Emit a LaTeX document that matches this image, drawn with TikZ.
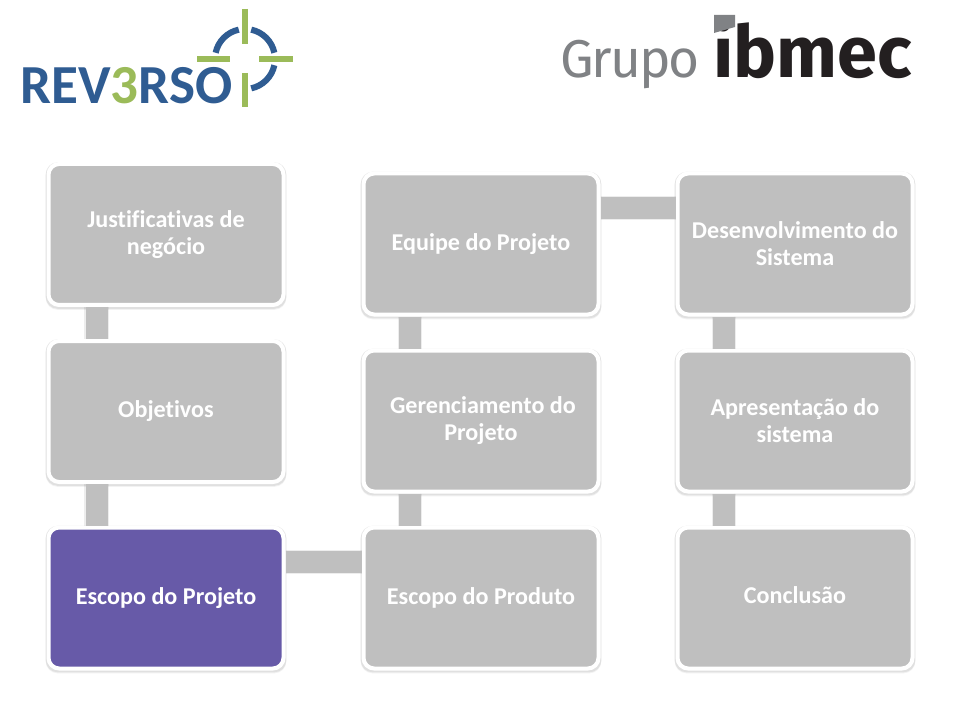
\documentclass[tikz,border=0pt]{standalone}
\usepackage{fontspec}
\setmainfont{Carlito}[Ligatures=CommonOff]
\newfontfamily\logofont{Fira Sans}[LetterSpace=-4]
\newfontfamily\ibmecfont{Fira Sans}
\usetikzlibrary{calc}
\definecolor{boxgray}{HTML}{BFBFBF}
\definecolor{boxviolet}{HTML}{675AA8}
\definecolor{revblue}{HTML}{2F5C92}
\definecolor{revgreen}{HTML}{9BBB59}
\definecolor{grupogray}{HTML}{808285}
\definecolor{ibmecblack}{HTML}{231F20}
\tikzset{
  x=0.75pt,y=-0.75pt,
  stepbox/.style={rectangle,rounded corners=8pt,draw=white,line width=3pt,fill=boxgray,
    minimum width=176.25pt,minimum height=105.75pt,inner sep=0pt,align=center,text=white,
    font=\fontsize{18.1pt}{20.3pt}\selectfont\bfseries},
  activebox/.style={stepbox,fill=boxviolet},
  shadowbox/.style={rectangle,rounded corners=9pt,fill=black,opacity=#1,
    minimum width=180.5pt,minimum height=110pt,inner sep=0pt},
  linkbar/.style={draw=boxgray,line width=16.5pt},
  linkglow/.style={draw=black,opacity=0.07,line width=18.5pt},
  arcmark/.style={draw=revblue,line width=4.6pt},
  crossbar/.style={draw=revgreen,line width=4.5pt},
}
\newcommand{\boxat}[5]{%
  \node[shadowbox=0.05] at (#3,#4+2) {};
  \node[shadowbox=0.07] at (#3,#4+1) {};
  \node[#1] (#2) at (#3,#4) {#5};
}
\begin{document}
\begin{tikzpicture}
\useasboundingbox (0,0) rectangle (960,720);
\fill[white] (0,0) rectangle (960,720);
\coordinate (c1) at (96.5,0);
\coordinate (c2) at (410,0);
\coordinate (c3) at (724,0);
\coordinate (r1) at (0,562);
\coordinate (r2) at (0,208);
% boxes
\boxat{stepbox}{just}{166}{234.5}{Justificativas de\\negócio}
\boxat{stepbox}{obj}{166}{411.5}{Objetivos}
\boxat{activebox}{esc}{166}{598}{Escopo do Projeto}
\boxat{stepbox}{prod}{481}{598}{Escopo do Produto}
\boxat{stepbox}{ger}{481}{421}{\hspace*{3pt}Gerenciamento do\\Projeto}
\boxat{stepbox}{equ}{481}{244}{Equipe do Projeto}
\boxat{stepbox}{dev}{795}{244}{Desenvolvimento do\\Sistema}
\boxat{stepbox}{apr}{795}{421}{Apresentação do\\sistema}
\boxat{stepbox}{con}{795}{598}{Conclusão\strut}
% connectors
\foreach \a/\b/\c in {just/obj/c1,obj/esc/c1,ger/prod/c2,equ/ger/c2,dev/apr/c3,apr/con/c3}{
  \draw[linkglow] (\a.south -| \c) -- (\b.north -| \c);
  \draw[linkbar] (\a.south -| \c) -- (\b.north -| \c);
}
\draw[linkglow] (esc.east |- r1) -- (prod.west |- r1);
\draw[linkbar] (esc.east |- r1) -- (prod.west |- r1);
\draw[linkglow] (equ.east |- r2) -- (dev.west |- r2);
\draw[linkbar] (equ.east |- r2) -- (dev.west |- r2);
% REV3RSO logo
\node[inner sep=0pt,anchor=base west] (rev) at (20,104)
  {\resizebox{159pt}{!}{\fontsize{40pt}{40pt}\selectfont\bfseries\textcolor{revblue}{REV}\textcolor{revgreen}{3}\textcolor{revblue}{RSO}}};
\coordinate (tc) at (245,59);
\draw[arcmark] ($(tc)+(168:30 and -30)$) arc[start angle=168,end angle=102,x radius=30,y radius=-30];
\draw[arcmark] ($(tc)+(78:30 and -30)$) arc[start angle=78,end angle=12,x radius=30,y radius=-30];
\draw[arcmark] ($(tc)+(-12:30 and -30)$) arc[start angle=-12,end angle=-78,x radius=30,y radius=-30];
\draw[crossbar] (245,9) -- (245,44);
\draw[crossbar] (245,73) -- (245,107);
\draw[crossbar] (197,59) -- (230,59);
\draw[crossbar] (259,59) -- (293,59);
% Grupo ibmec logo
\node[inner sep=0pt,anchor=base west,text=grupogray] (grupo) at (560,78)
  {\resizebox{104.5pt}{!}{\logofont\fontsize{40pt}{40pt}\selectfont Grupo}};
\node[inner sep=0pt,anchor=base west,text=ibmecblack] (ibmec) at (713,78)
  {\resizebox{149pt}{!}{\ibmecfont\fontsize{40pt}{40pt}\selectfont\bfseries ibmec}};
\fill[grupogray] (714,15) -- (735,15) -- (735,27) -- (714,33) -- cycle;
\end{tikzpicture}
\end{document}
